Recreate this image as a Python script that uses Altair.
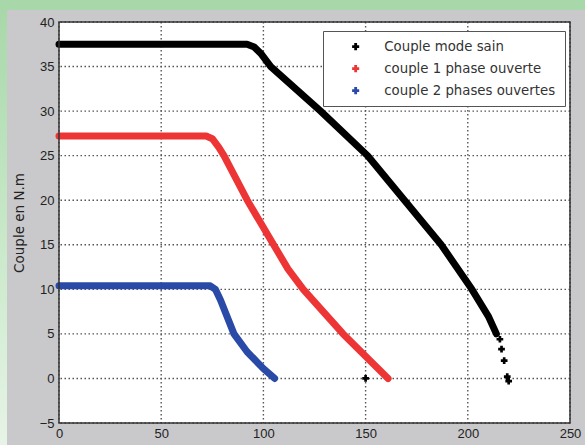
import altair as alt
import pandas as pd

# ---- data ----
names = ["Couple mode sain", "couple 1 phase ouverte", "couple 2 phases ouvertes"]
colors = ["#000000", "#ee3535", "#2a4aa8"]

x_sain = [0, 92, 95.5, 99, 103.6, 128, 151, 169, 187, 202, 210, 214]
y_sain = [37.5, 37.5, 37.2, 36.4, 35.0, 30.0, 25.0, 20.0, 15.0, 10.0, 7.0, 5.0]
x_sain_tail = [215.7, 216.5, 217.8, 219.3, 220.0, 150.0]
y_sain_tail = [4.4, 3.3, 2.0, 0.2, -0.3, 0.0]

x_1ph = [0, 72, 75, 78, 80.7, 92.1, 105, 112, 119.5, 139, 161]
y_1ph = [27.2, 27.2, 26.9, 26.0, 25.0, 20.0, 15.0, 12.3, 10.0, 5.0, 0.0]

x_2ph = [0, 74, 76.5, 79, 85.6, 92, 100, 105.5]
y_2ph = [10.4, 10.4, 10.0, 8.8, 5.0, 3.0, 1.1, 0.0]

x_ticks = [0, 50, 100, 150, 200, 250]
y_ticks = [-5, 0, 5, 10, 15, 20, 25, 30, 35, 40]

W, H = 511, 401

rows = []
for name, xs, ys in [(names[0], x_sain, y_sain), (names[1], x_1ph, y_1ph), (names[2], x_2ph, y_2ph)]:
    for i, (a, b) in enumerate(zip(xs, ys)):
        rows.append({"serie": name, "x": a, "y": b, "i": i})
df_lines = pd.DataFrame(rows)
df_tail = pd.DataFrame({"serie": names[0], "x": x_sain_tail, "y": y_sain_tail})

xscale = alt.Scale(domain=[0, 250], nice=False, zero=False)
yscale = alt.Scale(domain=[-5, 40], nice=False, zero=False)
cscale = alt.Scale(domain=names, range=colors)

legend = alt.Legend(
    title=None, orient="none", legendX=264, legendY=9,
    fillColor="white", strokeColor="#555555", padding=9,
    symbolType="cross", symbolSize=50, symbolStrokeWidth=0,
    labelFontSize=13.3, labelColor="#333333", labelFont="DejaVu Sans",
    rowPadding=8, symbolOffset=17, labelOffset=22, labelLimit=300,
)

xaxis = alt.Axis(values=x_ticks, format="d", grid=False, domain=False, ticks=False,
                 labelPadding=4, labelFontSize=13, labelColor="#222222",
                 labelFont="Liberation Sans", title=None, zindex=1, labelFlush=False)
yaxis = alt.Axis(values=y_ticks, format="d", grid=False, domain=False, ticks=False,
                 labelPadding=5, labelFontSize=13, labelColor="#222222",
                 labelFont="Liberation Sans", title="Couple en N.m", titleFontSize=13.5,
                 titleFont="DejaVu Sans", titleFontWeight="normal", titleColor="#222222",
                 titleX=-40, titleY=H / 2, titleAngle=270, titleAlign="center",
                 titleBaseline="middle", zindex=1)

one = alt.Data(values=[{}])

# figure (gray) panel, left green fading strip, white plot area
gray = alt.Chart(one).mark_rect(fill="#c9c9cb").encode(
    x=alt.value(-52), x2=alt.value(W + 20), y=alt.value(-12), y2=alt.value(H + 30))
strip = alt.Chart(one).mark_rect(
    fill=alt.Gradient(gradient="linear",
                      stops=[alt.GradientStop(color="#a8d8aa", offset=0),
                             alt.GradientStop(color="#c8e8c8", offset=0.5),
                             alt.GradientStop(color="#e8f4e8", offset=1)],
                      x1=0, x2=0, y1=0, y2=1)).encode(
    x=alt.value(-59), x2=alt.value(-52), y=alt.value(-12), y2=alt.value(H + 30))
white = alt.Chart(one).mark_rect(fill="white").encode(
    x=alt.value(0), x2=alt.value(W), y=alt.value(0), y2=alt.value(H))

gridx = alt.Chart(pd.DataFrame({"t": x_ticks})).mark_rule(
    color="#555555", strokeDash=[1.5, 2.5], strokeWidth=1.4).encode(
    x=alt.X("t:Q", scale=xscale, axis=xaxis))
gridy = alt.Chart(pd.DataFrame({"t": y_ticks})).mark_rule(
    color="#555555", strokeDash=[1.5, 2.5], strokeWidth=1.4).encode(
    y=alt.Y("t:Q", scale=yscale, axis=yaxis))

lines = alt.Chart(df_lines).mark_line(strokeWidth=7, strokeJoin="round", strokeCap="round").encode(
    x=alt.X("x:Q", scale=xscale, axis=xaxis),
    y=alt.Y("y:Q", scale=yscale, axis=yaxis),
    color=alt.Color("serie:N", scale=cscale, legend=legend),
    order="i:Q",
)
pts = alt.Chart(df_tail).mark_point(shape="cross", filled=True, size=45, opacity=1).encode(
    x=alt.X("x:Q", scale=xscale, axis=xaxis),
    y=alt.Y("y:Q", scale=yscale, axis=yaxis),
    color=alt.Color("serie:N", scale=cscale, legend=legend),
)

frame = alt.Chart(one).mark_rect(fillOpacity=0, stroke="#333333", strokeWidth=1.5).encode(
    x=alt.value(0), x2=alt.value(W), y=alt.value(0), y2=alt.value(H))

chart = alt.layer(gray, strip, white, gridx, gridy, lines, pts, frame).properties(
    width=W, height=H,
    autosize=alt.AutoSizeParams(type="none"),
    padding={"left": 59, "top": 22, "right": 15, "bottom": 22},
    background="#a8d8aa",
).configure_view(stroke=None)

chart.save("out.html", embed_options={"renderer": "svg", "actions": False})
